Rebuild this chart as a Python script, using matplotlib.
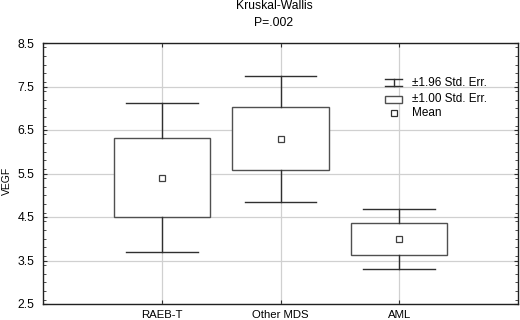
import matplotlib
matplotlib.use("Agg")
import matplotlib.pyplot as plt
from matplotlib.patches import Rectangle
from matplotlib.ticker import MultipleLocator
import numpy as np

plt.rcParams['font.family'] = ['Liberation Sans', 'DejaVu Sans']

categories = ["RAEB-T", "Other MDS", "AML"]
means = [5.40, 6.29, 3.99]
se1_low = [4.51, 5.57, 3.63]
se1_high = [6.31, 7.04, 4.36]
se196_low = [3.70, 4.85, 3.30]
se196_high = [7.13, 7.74, 4.68]
yticks = [2.5, 3.5, 4.5, 5.5, 6.5, 7.5, 8.5]

fig = plt.figure(figsize=(5.2, 3.2), dpi=100)
ax = fig.add_axes([43/520, 1-304/320, 475/520, 261/320])

x = np.arange(1, len(categories)+1)
box_w = 0.81
cap_w = 0.605
box_col = "#505050"
wh_col = "#303030"

for xi, m, lo, hi, wlo, whi in zip(x, means, se1_low, se1_high, se196_low, se196_high):
    ax.add_patch(Rectangle((xi-box_w/2, lo), box_w, hi-lo, facecolor="white",
                           edgecolor=box_col, lw=1.0, zorder=3))
    ax.plot([xi, xi], [hi, whi], color=wh_col, lw=1.0, zorder=3)
    ax.plot([xi, xi], [wlo, lo], color=wh_col, lw=1.0, zorder=3)
    ax.plot([xi-cap_w/2, xi+cap_w/2], [whi, whi], color=wh_col, lw=1.0, zorder=3)
    ax.plot([xi-cap_w/2, xi+cap_w/2], [wlo, wlo], color=wh_col, lw=1.0, zorder=3)
    ax.plot([xi], [m], marker='s', ms=4.8, mfc='white', mec="#404040", mew=0.9, zorder=4)

ax.set_xlim(0, 4)
ax.set_ylim(2.5, 8.5)
ax.set_xticks(x)
ax.set_xticklabels(categories, fontsize=8.2)
ax.set_yticks(yticks)
ax.set_yticklabels([f"{v:.1f}" for v in yticks], fontsize=8.8)
ax.yaxis.set_minor_locator(MultipleLocator(0.2))
ax.tick_params(axis='both', which='major', direction='in', length=3, width=0.8,
               color="#303030", right=True, top=True, pad=4)
ax.tick_params(axis='y', which='major', pad=6)
ax.tick_params(axis='y', which='minor', direction='in', length=2, width=0.6,
               color="#303030", right=True)
ax.grid(True, color="#d0d0d0", lw=0.9, zorder=0)
ax.set_axisbelow(True)
for s in ax.spines.values():
    s.set_color("#202020")
    s.set_linewidth(1.0)
ax.set_ylabel("VEGF", fontsize=7.5)
ax.yaxis.set_label_coords(-0.066, 0.47)

fig.text(274/520, 1-6/320, "Kruskal-Wallis", ha='center', va='center', fontsize=8.7)
fig.text(274/520, 1-23/320, "P=.002", ha='center', va='center', fontsize=8.7)

# legend (drawn manually)
def fx(px):
    return px/520
def fy(py):
    return 1-py/320
lx0, lx1 = fx(385), fx(402)
lxc = (lx0+lx1)/2
y1 = 82.7
fig.add_artist(plt.Line2D([lx0, lx1], [fy(y1-3.3)]*2, color=wh_col, lw=1.0))
fig.add_artist(plt.Line2D([lx0, lx1], [fy(y1+3.3)]*2, color=wh_col, lw=1.0))
fig.add_artist(plt.Line2D([lxc, lxc], [fy(y1-3.3), fy(y1+3.3)], color=wh_col, lw=1.0))
fig.text(fx(412), fy(y1), "\u00b11.96 Std. Err.", ha='left', va='center', fontsize=8.5)
y2 = 99
fig.add_artist(Rectangle((lx0, fy(y2+3.5)), lx1-lx0, fy(y2-3.5)-fy(y2+3.5),
                         facecolor='white', edgecolor=box_col, lw=1.0, transform=fig.transFigure))
fig.text(fx(412), fy(y2), "\u00b11.00 Std. Err.", ha='left', va='center', fontsize=8.5)
y3 = 113
fig.add_artist(plt.Line2D([fx(394)], [fy(y3)], marker='s', ms=4.2, mfc='white', mec="#303030", mew=0.9))
fig.text(fx(412), fy(y3), "Mean", ha='left', va='center', fontsize=8.5)

fig.savefig("out.png", dpi=100)
